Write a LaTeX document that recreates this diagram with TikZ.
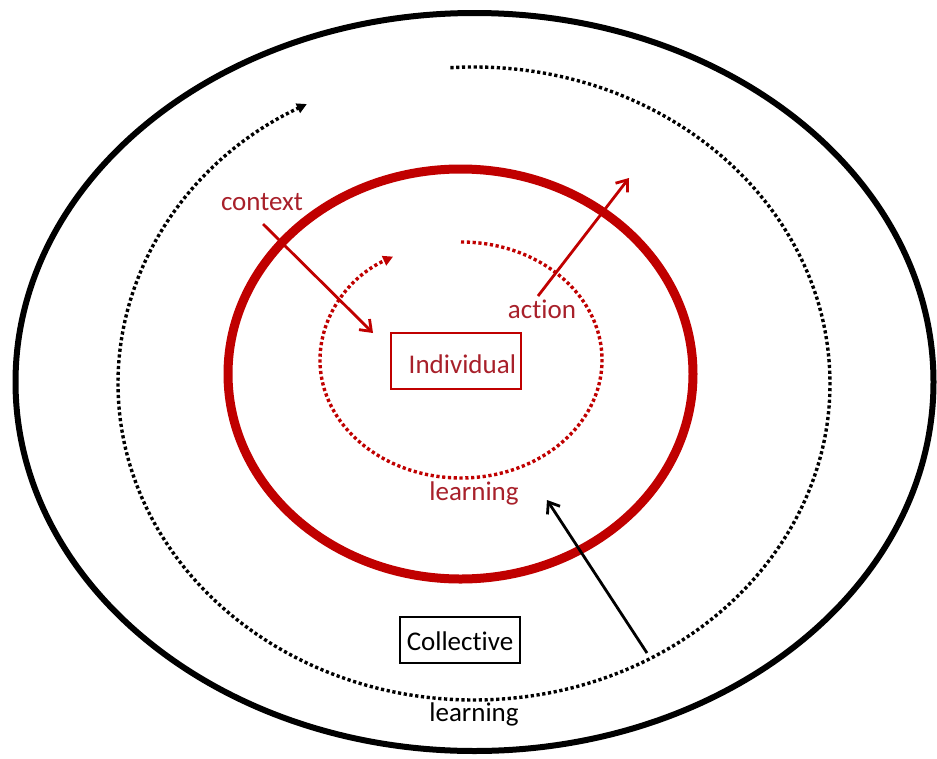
\documentclass[tikz,border=0pt]{standalone}
\usepackage{fontspec}
\setmainfont{Carlito}[RawFeature={-liga;-clig}]
\usetikzlibrary{arrows.meta}
\definecolor{linered}{RGB}{192,0,0}
\definecolor{textred}{RGB}{168,32,42}
\begin{document}
\begin{tikzpicture}[x=1pt,y=-1pt,
  lbl/.style={font=\fontsize{27}{32}\selectfont, inner sep=0pt, anchor=base},
  dots/.style={line width=3.4pt, dash pattern=on 3.2pt off 2.6pt},
  dottip/.style={-{Triangle[length=10pt,width=10pt]}},
  barb/.style={-{Straight Barb[length=10pt,width=15pt]}, line width=2.8pt},
  boxed/.style={draw, line width=2.8pt, font=\fontsize{27}{32}\selectfont, anchor=base}]
\useasboundingbox (0,0) rectangle (937,758);
\fill[white] (0,0) rectangle (937,758);
% outer black ellipse
\draw[line width=6pt] (474.5,382) ellipse [x radius=459, y radius=369];
% red ellipse
\draw[linered, line width=9pt] (460.5,374) ellipse [x radius=232.5, y radius=205];
% inner red dotted cycle
\draw[linered, dots, dottip] (461,242) arc[start angle=270, end angle=601.2, x radius=141, y radius=118];
% outer black dotted cycle
\draw[dots, dottip] (450.4,67.7) arc[start angle=266.2, end angle=602, x radius=356, y radius=316.5];
% labels
\node[lbl, textred] (ctx) at (262,210) {context};
\node[lbl, textred] (act) at (542,318) {action};
\node[lbl, textred] (lrnI) at (474,500) {learning};
\node[lbl] (lrnC) at (474,721) {learning};
\node[boxed, linered, text=textred, text width=120pt, align=right, inner xsep=5pt, inner ysep=0pt,
      minimum height=56pt, text height=24pt, text depth=0pt] (indiv) at (456,373) {Individual};
\node[boxed, text width=110pt, align=center, inner xsep=5pt, inner ysep=0pt,
      minimum height=46pt, text height=20pt, text depth=0pt] (coll) at (460,650) {Collective};
% arrows
\coordinate (ctxS) at (263,224);
\coordinate (ctxE) at (373,333);
\coordinate (actS) at (538,296);
\coordinate (actE) at (629,178);
\coordinate (colS) at (647,653);
\coordinate (colE) at (547,500);
\draw[linered, barb] (ctxS) -- (ctxE);
\draw[linered, barb] (actS) -- (actE);
\draw[barb] (colS) -- (colE);
\end{tikzpicture}
\end{document}
